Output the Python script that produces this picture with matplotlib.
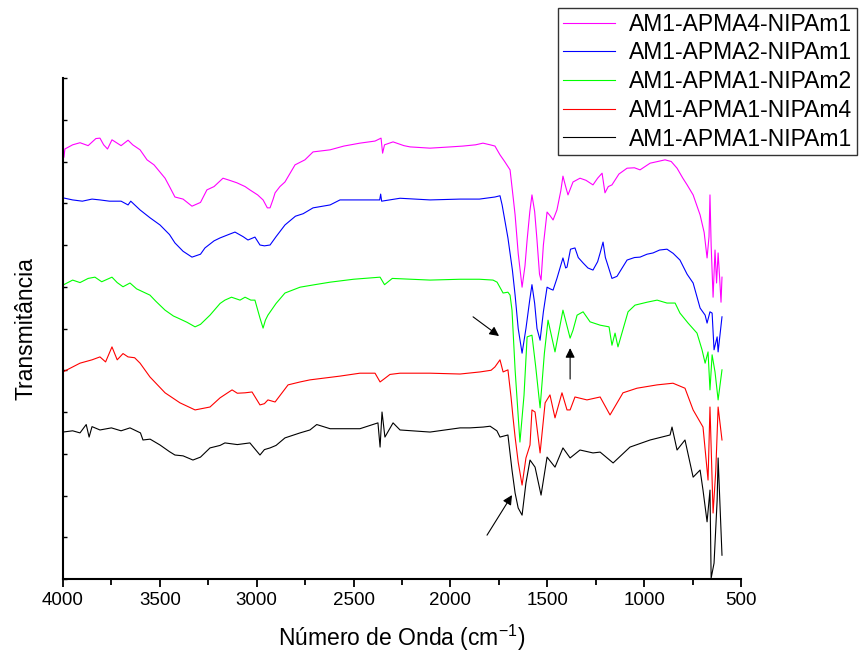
import matplotlib
matplotlib.use('agg')
import matplotlib.pyplot as plt
from matplotlib.ticker import MultipleLocator, NullFormatter

plt.rcParams['font.family'] = ['Liberation Sans', 'DejaVu Sans']

# spectra, wavenumber (cm-1) and offset transmittance (arb. units)
wn_magenta = [4000, 3995, 3990, 3950, 3912, 3870, 3830, 3809, 3790, 3770, 3747, 3700, 3664, 3640, 3602, 3566,
              3530, 3473, 3450, 3422, 3380, 3334, 3290, 3257, 3220, 3174, 3140, 3102, 3060, 3035, 2995, 2967,
              2945, 2931, 2915, 2905, 2880, 2854, 2802, 2751, 2709, 2621, 2550, 2467, 2389, 2358, 2350, 2340,
              2296, 2240, 2208, 2105, 2000, 1935, 1870, 1832, 1795, 1770, 1744, 1720, 1692, 1675, 1666, 1650,
              1630, 1615, 1604, 1590, 1579, 1565, 1553, 1540, 1532, 1520, 1501, 1485, 1470, 1450, 1430, 1419,
              1405, 1393, 1367, 1331, 1300, 1264, 1240, 1217, 1202, 1185, 1166, 1130, 1088, 1050, 1021, 969,
              930, 892, 860, 830, 800, 778, 747, 711, 690, 675, 665, 660, 654, 644, 634, 626, 618, 610, 603, 598]
t_magenta = [10.28, 10.10, 10.30, 10.40, 10.45, 10.38, 10.55, 10.56, 10.40, 10.30, 10.52, 10.38, 10.51, 10.40, 10.28, 10.04,
             9.92, 9.60, 9.40, 9.15, 9.10, 8.93, 9.02, 9.32, 9.40, 9.60, 9.55, 9.49, 9.40, 9.32, 9.20, 9.08,
             8.89, 8.89, 9.10, 9.25, 9.40, 9.51, 9.92, 10.04, 10.23, 10.28, 10.37, 10.44, 10.49, 10.56, 10.20, 10.40,
             10.47, 10.38, 10.35, 10.32, 10.35, 10.37, 10.40, 10.44, 10.40, 10.37, 10.16, 10.00, 9.80, 9.10, 8.72, 7.80,
             6.99, 7.50, 8.12, 8.80, 9.20, 8.80, 8.12, 7.30, 7.16, 8.00, 8.79, 8.70, 8.60, 8.84, 9.30, 9.65,
             9.40, 9.20, 9.51, 9.60, 9.55, 9.44, 9.60, 9.72, 9.25, 9.40, 9.44, 9.70, 9.84, 9.85, 9.80, 9.96,
             10.00, 10.04, 10.00, 9.84, 9.60, 9.44, 9.20, 8.72, 8.30, 7.69, 8.20, 9.20, 8.00, 6.75, 7.88, 7.09, 7.81, 7.20, 6.63, 7.23]

wn_blue = [4000, 3950, 3900, 3850, 3809, 3760, 3700, 3664, 3650, 3602, 3550, 3499, 3450, 3422, 3380, 3334,
           3290, 3267, 3220, 3189, 3140, 3112, 3070, 3045, 3009, 2983, 2960, 2931, 2900, 2854, 2800, 2760,
           2709, 2621, 2570, 2467, 2365, 2360, 2355, 2260, 2105, 1950, 1850, 1770, 1744, 1733, 1703, 1680,
           1666, 1650, 1630, 1610, 1590, 1579, 1565, 1553, 1537, 1520, 1501, 1485, 1470, 1450, 1419, 1405,
           1398, 1380, 1357, 1340, 1315, 1290, 1264, 1240, 1227, 1212, 1200, 1191, 1166, 1140, 1088, 1050,
           1021, 985, 954, 920, 882, 850, 815, 778, 747, 711, 685, 675, 660, 649, 639, 623, 618, 598]
t_blue = [9.13, 9.08, 9.05, 9.10, 9.08, 9.05, 9.05, 8.96, 9.05, 8.84, 8.65, 8.48, 8.25, 8.05, 7.85, 7.71,
          7.78, 7.93, 8.10, 8.17, 8.26, 8.31, 8.20, 8.12, 8.19, 8.00, 7.98, 8.00, 8.20, 8.48, 8.69, 8.75,
          8.89, 8.96, 9.08, 9.08, 9.08, 9.22, 9.05, 9.12, 9.08, 9.10, 9.10, 9.15, 9.18, 8.96, 8.17, 7.40,
          6.80, 6.00, 5.41, 6.00, 6.70, 7.05, 6.60, 6.00, 5.72, 6.40, 6.99, 6.95, 6.92, 7.20, 7.69, 7.45,
          7.47, 7.90, 7.93, 7.70, 7.57, 7.45, 7.40, 7.60, 7.81, 8.07, 7.70, 7.57, 7.20, 7.25, 7.64, 7.70,
          7.71, 7.78, 7.81, 7.88, 7.90, 7.80, 7.64, 7.30, 7.09, 6.49, 6.32, 6.13, 6.40, 6.37, 5.49, 5.80, 5.44, 6.28]

wn_green = [4000, 3950, 3912, 3870, 3835, 3800, 3747, 3720, 3690, 3654, 3620, 3551, 3520, 3473, 3430, 3406,
            3360, 3318, 3290, 3241, 3189, 3164, 3130, 3086, 3060, 3030, 3009, 2983, 2967, 2955, 2942, 2900,
            2854, 2776, 2700, 2621, 2500, 2363, 2340, 2300, 2105, 1950, 1850, 1780, 1759, 1728, 1703, 1692,
            1682, 1666, 1641, 1620, 1604, 1579, 1560, 1537, 1515, 1496, 1460, 1419, 1382, 1367, 1346, 1315,
            1279, 1227, 1181, 1166, 1150, 1135, 1083, 1047, 985, 933, 882, 840, 815, 773, 727, 701,
            685, 670, 660, 649, 634, 618, 598]
t_green = [7.04, 7.16, 7.10, 7.20, 7.23, 7.12, 7.23, 7.10, 7.00, 7.09, 6.95, 6.80, 6.65, 6.44, 6.30, 6.25,
           6.15, 6.04, 6.10, 6.32, 6.60, 6.68, 6.75, 6.68, 6.75, 6.68, 6.68, 6.25, 6.01, 6.20, 6.32, 6.60,
           6.85, 6.99, 7.05, 7.11, 7.18, 7.23, 7.05, 7.20, 7.16, 7.18, 7.18, 7.16, 7.11, 6.85, 6.87, 6.80,
           6.44, 5.01, 3.28, 4.40, 5.80, 5.84, 5.10, 4.10, 5.40, 6.20, 5.44, 6.44, 5.77, 5.96, 6.32, 6.40,
           6.16, 6.08, 6.04, 5.60, 5.89, 5.56, 6.40, 6.56, 6.63, 6.68, 6.61, 6.61, 6.37, 6.13, 5.89, 5.49,
           5.17, 5.44, 4.53, 5.37, 4.96, 4.29, 5.01]

wn_red = [4000, 3912, 3850, 3809, 3780, 3747, 3720, 3690, 3664, 3630, 3602, 3551, 3473, 3396, 3318, 3241,
          3189, 3127, 3100, 3060, 3024, 2983, 2960, 2942, 2905, 2838, 2776, 2725, 2570, 2467, 2389, 2363,
          2340, 2312, 2260, 2105, 1950, 1847, 1790, 1770, 1744, 1728, 1703, 1687, 1677, 1666, 1650, 1630,
          1610, 1589, 1579, 1563, 1537, 1511, 1486, 1460, 1424, 1398, 1382, 1357, 1295, 1227, 1176, 1109,
          1037, 933, 851, 789, 747, 696, 670, 660, 644, 630, 618, 598]
t_red = [4.96, 5.17, 5.25, 5.32, 5.20, 5.56, 5.25, 5.40, 5.32, 5.30, 5.17, 4.84, 4.46, 4.22, 4.05, 4.12,
         4.34, 4.53, 4.45, 4.46, 4.48, 4.17, 4.20, 4.29, 4.24, 4.65, 4.72, 4.77, 4.86, 4.93, 4.93, 4.72,
         4.80, 4.90, 4.93, 4.93, 4.91, 4.96, 5.00, 5.08, 5.25, 4.96, 5.01, 4.36, 3.88, 3.40, 2.80, 2.25,
         2.90, 3.21, 4.05, 4.00, 3.02, 4.22, 4.41, 3.86, 4.46, 4.05, 4.05, 4.36, 4.29, 4.36, 3.93, 4.46,
         4.57, 4.65, 4.69, 4.57, 4.05, 3.64, 2.37, 4.12, 1.58, 2.60, 4.12, 3.33]

wn_black = [4000, 3950, 3912, 3880, 3865, 3850, 3809, 3750, 3700, 3654, 3600, 3587, 3550, 3499, 3450, 3422,
            3380, 3329, 3290, 3241, 3189, 3164, 3100, 3035, 2983, 2960, 2931, 2900, 2854, 2776, 2725, 2690,
            2621, 2467, 2374, 2363, 2353, 2338, 2296, 2260, 2105, 1950, 1899, 1830, 1795, 1760, 1744, 1703,
            1682, 1666, 1650, 1630, 1610, 1589, 1563, 1532, 1501, 1460, 1419, 1382, 1331, 1264, 1227, 1160,
            1073, 969, 866, 856, 830, 789, 747, 711, 696, 675, 660, 654, 639, 623, 618, 598]
t_black = [3.52, 3.55, 3.50, 3.70, 3.40, 3.65, 3.57, 3.62, 3.55, 3.62, 3.50, 3.33, 3.35, 3.21, 3.05, 2.97,
           2.95, 2.85, 2.92, 3.14, 3.20, 3.26, 3.22, 3.26, 2.97, 3.10, 3.14, 3.20, 3.38, 3.50, 3.57, 3.70,
           3.60, 3.60, 3.74, 3.16, 4.00, 3.40, 3.74, 3.57, 3.52, 3.62, 3.62, 3.64, 3.66, 3.55, 3.40, 3.45,
           2.61, 2.06, 1.70, 1.53, 2.30, 2.85, 2.68, 2.01, 2.92, 2.68, 3.14, 2.90, 3.09, 3.02, 3.04, 2.78,
           3.16, 3.33, 3.45, 3.64, 3.09, 3.33, 2.44, 2.61, 2.13, 1.37, 2.13, 0.02, 0.38, 1.89, 2.90, 0.57]

labels = ['AM1-APMA4-NIPAm1', 'AM1-APMA2-NIPAm1', 'AM1-APMA1-NIPAm2',
          'AM1-APMA1-NIPAm4', 'AM1-APMA1-NIPAm1']
colors = ['#ff00ff', '#0000ff', '#00ff00', '#ff0000', '#000000']

# arrows marking bands: (tail, head)
arrows = [((1883, 6.28), (1749, 5.82)),
          ((1382, 4.79), (1382, 5.53)),
          ((1811, 1.05), (1682, 2.01))]

fig = plt.figure(figsize=(8.59, 6.6), dpi=100)
ax = fig.add_axes([0.0733, 0.1227, 0.7893, 0.7591])

series = [(wn_magenta, t_magenta), (wn_blue, t_blue), (wn_green, t_green),
          (wn_red, t_red), (wn_black, t_black)]
for (x, y), lab, c in zip(series, labels, colors):
    ax.plot(x, y, color=c, lw=0.8, label=lab)

for tail, head in arrows:
    ax.annotate('', xy=head, xytext=tail,
                arrowprops=dict(arrowstyle='-|>', color='black', lw=0.8,
                                mutation_scale=14, shrinkA=0, shrinkB=0))

ax.set_xlim(4000, 500)
ax.set_ylim(0, 12)
ax.spines['top'].set_visible(False)
ax.spines['right'].set_visible(False)
ax.spines['left'].set_linewidth(1.5)
ax.spines['bottom'].set_linewidth(1.5)

ax.xaxis.set_major_locator(MultipleLocator(500))
ax.xaxis.set_minor_locator(MultipleLocator(250))
ax.tick_params(axis='x', which='major', direction='out', length=6, width=1.3, labelsize=13.5)
ax.tick_params(axis='x', which='minor', direction='out', length=4, width=1.3)
ax.yaxis.set_major_locator(MultipleLocator(1))
ax.yaxis.set_major_formatter(NullFormatter())
ax.tick_params(axis='y', direction='in', length=3, width=1)

ax.set_xlabel('Número de Onda (cm$^{\\mathregular{-1}}$)', fontsize=16.5, labelpad=10)
ax.set_ylabel('Transmitância', fontsize=16.5, labelpad=15)

leg = fig.legend(loc='upper left', bbox_to_anchor=(558 / 859, 1 - 8 / 660),
                 fontsize=16.5, frameon=True, fancybox=False, framealpha=1,
                 edgecolor='#333333', borderaxespad=0, handlelength=2.3,
                 labelspacing=0.25, borderpad=0.2, handletextpad=0.6)
leg.get_frame().set_linewidth(1.0)

plt.savefig('out.png', dpi=100)
